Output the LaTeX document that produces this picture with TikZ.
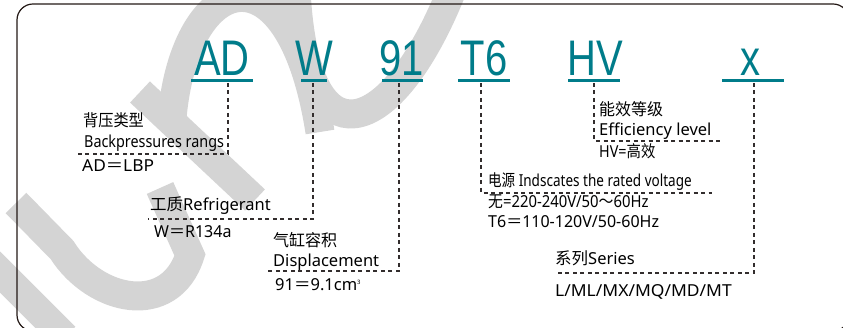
\documentclass[tikz,border=0pt]{standalone}
\usepackage{fontspec}
\setmainfont{Noto Sans}
\newfontfamily\cjk{Noto Sans CJK SC}
\newfontfamily\bigfont{Liberation Sans}
\newcommand{\sxx}[2]{\scalebox{#1}[1]{#2}}
\definecolor{codeteal}{RGB}{0,124,138}
\definecolor{wmgray}{RGB}{212,212,212}
\definecolor{framecol}{RGB}{35,24,21}
\definecolor{dashcol}{RGB}{50,45,45}
\begin{document}
\begin{tikzpicture}[x=1pt,y=-1pt,
  wmark/.style={wmgray,line width=29pt,line cap=butt},
  codetxt/.style={anchor=base,inner sep=0pt,text=codeteal,font=\bigfont\fontsize{50}{50}\selectfont},
  uline/.style={codeteal,line width=3pt},
  dline/.style={dashcol,line width=1.1pt,dash pattern=on 4pt off 3.5pt},
  lbl/.style={anchor=base west,inner sep=0pt,font=\fontsize{16.5}{16.5}\selectfont,text=black}]
\useasboundingbox (0,0) rectangle (843,328);
% watermark (approximate)
\draw[wmark] (-10,262) -- (65,337);
\draw[wmark] (16,203) -- (62,250) .. controls (95,302) and (170,318) .. (190,255) -- (160,188);
\draw[wmark] (140,92) -- (255,200);
\draw[wmark] (172,118) .. controls (185,-30) and (290,-60) .. (320,132);
\draw[wmark] (296,-10) .. controls (305,170) and (392,140) .. (452,-10);
% frame
\draw[framecol,line width=1.2pt,rounded corners=16pt] (17,4) rectangle (849,331);
% code letters
\node[codetxt] (cAD) at (222,76) {\sxx{0.8}{AD}};
\node[codetxt] (cW) at (314,76) {\sxx{0.8}{W}};
\node[codetxt] (c91) at (402,76) {\sxx{0.8}{91}};
\node[codetxt] (cT6) at (484,76) {\sxx{0.8}{T6}};
\node[codetxt] (cHV) at (595,76) {\sxx{0.8}{HV}};
\node[codetxt] (cx) at (750,76) {\sxx{0.8}{x}};
% underlines
\coordinate (uADa) at (191,81); \coordinate (uADb) at (253,81);
\coordinate (uWa) at (301,81); \coordinate (uWb) at (327,81);
\coordinate (u91a) at (382,81); \coordinate (u91b) at (423,81);
\coordinate (uT6a) at (458,81); \coordinate (uT6b) at (510,81);
\coordinate (uHVa) at (568,81); \coordinate (uHVb) at (620,81);
\coordinate (uxa) at (722,81); \coordinate (uxb) at (784,81);
\draw[uline] (uADa) -- (uADb);
\draw[uline] (uWa) -- (uWb);
\draw[uline] (u91a) -- (u91b);
\draw[uline] (uT6a) -- (uT6b);
\draw[uline] (uHVa) -- (uHVb);
\draw[uline] (uxa) -- (uxb);
% dashed leaders
\coordinate (dADt) at (228,83); \coordinate (dADe) at (77,154);
\coordinate (dWt) at (313,83); \coordinate (dWe) at (148,219);
\coordinate (d91t) at (399,83); \coordinate (d91e) at (268,271);
\coordinate (dT6t) at (481,83); \coordinate (dT6e) at (712,193);
\coordinate (dHVt) at (594,83); \coordinate (dHVe) at (722,141);
\coordinate (dxt) at (754,83); \coordinate (dxe) at (555,273);
\draw[dline] (dADt) |- (dADe);
\draw[dline] (dWt) |- (dWe);
\draw[dline] (d91t) |- (d91e);
\draw[dline] (dT6t) |- (dT6e);
\draw[dline] (dHVt) |- (dHVe);
\draw[dline] (dxt) |- (dxe);
% labels
\node[lbl] (bp1) at (83,127) {\sxx{0.92}{\cjk 背压类型}};
\node[lbl] (bp2) at (84,148) {\sxx{0.87}{Backpressures rangs}};
\node[lbl] (bp3) at (82,172) {\sxx{1.05}{AD{\cjk ＝}LBP}};
\node[lbl] (rf1) at (150,211) {{\cjk 工质}Refrigerant};
\node[lbl] (rf2) at (154,238) {\sxx{0.97}{W{\cjk ＝}R134a}};
\node[lbl] (ds1) at (273,247) {\sxx{0.97}{\cjk 气缸容积}};
\node[lbl] (ds2) at (273,267) {Displacement};
\node[lbl] (ds3) at (275,291) {91{\cjk ＝}9.1cm{\fontsize{6}{6}\selectfont\raisebox{6pt}{3}}};
\node[lbl] (ef1) at (599,116) {\sxx{0.97}{\cjk 能效等级}};
\node[lbl] (ef2) at (599,136) {Efficiency level};
\node[lbl] (ef3) at (599,158) {\sxx{0.87}{HV={\cjk 高效}}};
\node[lbl] (pw1) at (488,187) {\sxx{0.82}{{\cjk 电源} Indscates the rated voltage}};
\node[lbl] (pw2) at (488,208) {\sxx{0.9}{{\cjk 无}=220-240V/50{\cjk ～}60Hz}};
\node[lbl] (pw3) at (488,228) {\sxx{0.97}{T6{\cjk ＝}110-120V/50-60Hz}};
\node[lbl] (se1) at (555,265) {{\cjk 系列}Series};
\node[lbl] (se2) at (555,297) {\sxx{1.06}{L/ML/MX/MQ/MD/MT}};
\end{tikzpicture}
\end{document}
